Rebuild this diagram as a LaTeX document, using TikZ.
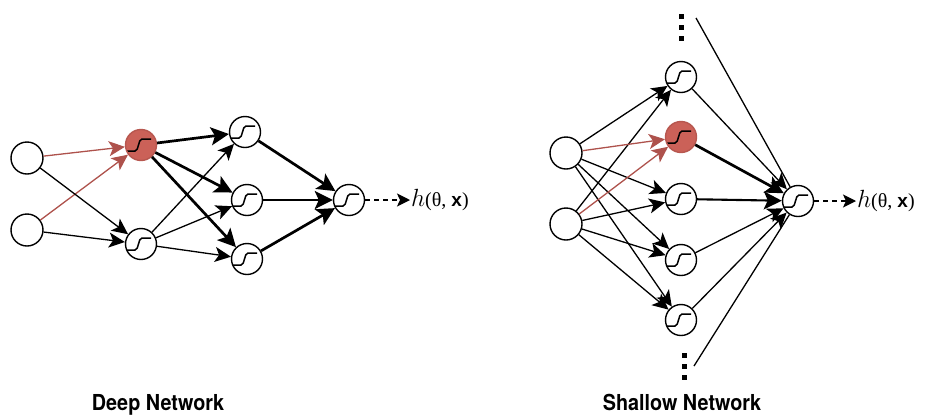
\documentclass[tikz,border=0pt]{standalone}
\usepackage{fontspec}
\usetikzlibrary{arrows.meta}
\newfontfamily\netfont[FakeStretch=0.9]{TeX Gyre Heros}
\newfontfamily\serfont{Liberation Serif}
\newfontfamily\sansfont{Liberation Sans}
\definecolor{redfill}{RGB}{203,97,88}
\definecolor{redline}{RGB}{174,82,76}
\tikzset{
    unit/.style={circle, draw, line width=1.4pt, minimum size=32pt, inner sep=0pt, fill=white},
    sig/.style={unit, minimum size=31pt, path picture={
        \draw[black, line width=1.5pt] ([xshift=-14pt,yshift=-6pt]path picture bounding box.center)
            -- ++(8pt,0pt) .. controls +(4pt,0pt) and +(-4pt,0pt) .. ++(7pt,12pt) -- ++(9pt,0pt);}},
    hot/.style={sig, fill=redfill, draw=redfill!90!black},
    thinarr/.style={line width=1.3pt, -{Stealth[length=16pt,width=15pt,inset=4pt]}},
    thickarr/.style={line width=2.7pt, -{Stealth[length=18pt,width=18pt,inset=4pt]}},
    redarr/.style={line width=1.3pt, draw=redline, -{Stealth[length=16pt,width=15pt,inset=4pt,fill=redline]}},
    lineonly/.style={line width=1.3pt},
    dasharr/.style={line width=1.4pt, dash pattern=on 5pt off 4pt, -{Stealth[length=13pt,width=13pt,inset=3pt]}},
    lbl/.style={inner sep=1pt, anchor=west},
    netname/.style={font=\netfont\bfseries\fontsize{22}{26}\selectfont, anchor=base}
}
\newcommand{\hlabel}{{\fontsize{26}{28}\selectfont$h$}{\serfont\fontsize{20}{24}\selectfont(θ, }{\sansfont\bfseries\fontsize{19}{24}\selectfont x}{\serfont\fontsize{20}{24}\selectfont)}}
\begin{document}
\begin{tikzpicture}[x=1pt, y=-1pt]
    \useasboundingbox (0,0) rectangle (926,416);
    \node[unit] (A1) at (27,158) {};
    \node[unit] (A2) at (27,230) {};
    \node[hot] (B1) at (141,145) {};
    \node[sig] (B2) at (141,244) {};
    \node[sig] (C1) at (245,132) {};
    \node[sig] (C2) at (247,200) {};
    \node[sig] (C3) at (247,259) {};
    \node[sig] (D) at (349,200) {};
    \node[lbl] (hD) at (410,200) {\hlabel};
    \draw[redarr] (A1) -- (B1);
    \draw[redarr] (A2) -- (B1);
    \draw[thinarr] (A1) -- (B2);
    \draw[thinarr] (A2) -- (B2);
    \foreach \c in {C1,C2,C3} {
        \draw[thinarr] (B2) -- (\c);
        \draw[thickarr] (B1) -- (\c);
        \draw[thickarr] (\c) -- (D);
    }
    \draw[dasharr] (D) -- (hD);
    \node[netname] (deep) at (158,410) {Deep Network};

    \node[unit] (P1) at (566,153) {};
    \node[unit] (P2) at (566,224) {};
    \node[sig] (Q1) at (681,77) {};
    \node[hot] (Q2) at (681,137) {};
    \node[sig] (Q3) at (681,199) {};
    \node[sig] (Q4) at (681,260) {};
    \node[sig] (Q5) at (681,320) {};
    \node[sig] (R) at (798,201) {};
    \node[lbl] (hR) at (856,201) {\hlabel};
    \coordinate (T) at (696,18);
    \coordinate (U) at (694,366);
    \foreach \y in {16,27,38} \fill (679,\y-2.5) rectangle (684,\y+2.5);
    \foreach \y in {355.5,366,377.5} \fill (682,\y-2.5) rectangle (687,\y+2.5);
    \foreach \q in {Q1,Q3,Q4,Q5} {
        \draw[thinarr] (P1) -- (\q);
        \draw[thinarr] (P2) -- (\q);
    }
    \draw[redarr] (P1) -- (Q2);
    \draw[redarr] (P2) -- (Q2);
    \draw[lineonly] (T) -- (R);
    \draw[lineonly] (U) -- (R);
    \draw[thinarr] (Q1) -- (R);
    \draw[thickarr] (Q2) -- (R);
    \draw[thickarr, line width=2.1pt] (Q3) -- (R);
    \draw[thinarr] (Q4) -- (R);
    \draw[thinarr] (Q5) -- (R);
    \draw[dasharr] (R) -- (hR);
    \node[netname] (shallow) at (682,410) {Shallow Network};
\end{tikzpicture}
\end{document}
